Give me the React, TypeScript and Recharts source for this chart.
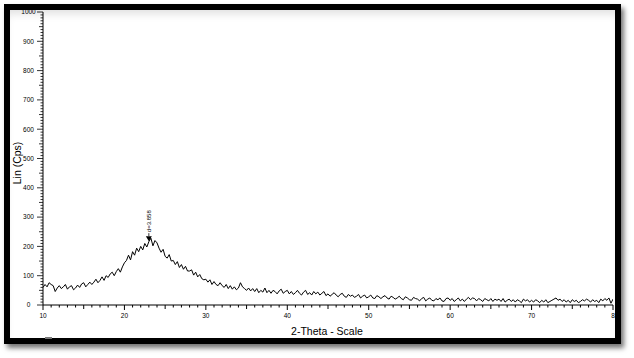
import React from "react";
import { ComposedChart, Line, XAxis, YAxis, ReferenceDot } from "recharts";

// 2-Theta scan, 10° to 80° in 0.25° steps (Lin (Cps))
const TWO_THETA_START = 10;
const TWO_THETA_STEP = 0.25;
const COUNTS: number[] = [
  60, 70, 62, 76, 70, 66, 46, 58,
  66, 56, 62, 70, 54, 62, 66, 52,
  58, 68, 60, 72, 76, 62, 70, 78,
  70, 78, 88, 76, 84, 96, 84, 100,
  94, 106, 112, 100, 114, 124, 112, 130,
  144, 152, 170, 154, 182, 170, 194, 182,
  200, 188, 210, 198, 216, 228, 202, 220,
  212, 194, 180, 190, 166, 160, 172, 150,
  152, 138, 148, 128, 138, 122, 132, 116,
  116, 120, 102, 112, 96, 104, 90, 86,
  88, 78, 86, 70, 80, 70, 66, 76,
  66, 60, 70, 56, 66, 54, 62, 52,
  58, 76, 62, 56, 50, 58, 48, 56,
  46, 56, 42, 50, 44, 58, 42, 50,
  40, 50, 46, 38, 48, 54, 40, 46,
  50, 38, 46, 36, 42, 50, 40, 34,
  44, 50, 36, 42, 34, 46, 38, 44,
  34, 40, 46, 32, 38, 30, 36, 42,
  34, 28, 36, 40, 30, 26, 36, 30,
  34, 26, 30, 36, 24, 30, 34, 24,
  28, 34, 24, 22, 32, 28, 22, 28,
  32, 24, 20, 30, 26, 20, 24, 30,
  22, 18, 28, 24, 18, 16, 26, 22,
  20, 14, 22, 26, 14, 20, 24, 16,
  14, 22, 18, 24, 14, 12, 22, 24,
  16, 22, 12, 18, 24, 14, 20, 12,
  20, 26, 18, 24, 22, 14, 22, 18,
  12, 22, 18, 14, 22, 12, 20, 16,
  20, 12, 22, 10, 16, 20, 12, 18,
  10, 18, 14, 8, 20, 14, 18, 10,
  16, 10, 18, 14, 8, 16, 10, 18,
  8, 12, 16, 20, 24, 16, 20, 12,
  18, 10, 16, 8, 18, 12, 16, 8,
  12, 18, 14, 20, 16, 10, 18, 12,
  16, 8, 20, 14, 22, 16, 24, 6,
  20,
];

const X_MAJOR_TICKS = [10, 20, 30, 40, 50, 60, 70, 80];
const Y_MAJOR_TICKS = [0, 100, 200, 300, 400, 500, 600, 700, 800, 900, 1000];
const PEAK_TWO_THETA = 23;
const PEAK_COUNTS = 218;
const PEAK_LABEL = "d=3.858";
const X_TITLE = "2-Theta - Scale";
const Y_TITLE = "Lin (Cps)";

const data = COUNTS.map((c, i) => ({ t: TWO_THETA_START + i * TWO_THETA_STEP, c }));

const xTicks: number[] = [];
for (let v = 10; v <= 80; v += 1) xTicks.push(v);
const yTicks: number[] = [];
for (let v = 0; v <= 1000; v += 10) yTicks.push(v);

const FONT = "'Liberation Sans', Arial, sans-serif";

const XTick = (props: any) => {
  const { x, y, payload } = props;
  const v = payload.value;
  const major = X_MAJOR_TICKS.includes(v);
  const mid = v % 5 === 0;
  const len = major ? 5 : mid ? 4 : 2.5;
  return (
    <g>
      <line x1={x} x2={x} y1={y} y2={y + len} stroke="#000" strokeWidth={1} />
      {major && (
        <text x={x} y={y + 13} textAnchor="middle" fontSize={6.5} fontFamily={FONT} fill="#000">
          {v === 80 ? "8" : v}
        </text>
      )}
    </g>
  );
};

const YTick = (props: any) => {
  const { x, y, payload } = props;
  const v = payload.value;
  const major = Y_MAJOR_TICKS.includes(v);
  const mid = v % 50 === 0;
  const len = major ? 6 : mid ? 4 : 2.5;
  return (
    <g>
      <line x1={x - len} x2={x} y1={y} y2={y} stroke="#000" strokeWidth={0.8} />
      {major && (
        <text x={x - 14.5} y={y + 2.3} textAnchor="middle" fontSize={6.5} fontFamily={FONT} fill="#000">
          {v}
        </text>
      )}
    </g>
  );
};

const PeakMarker = (props: any) => {
  const { cx, cy } = props;
  return (
    <g>
      <path d={`M ${cx - 3} ${cy - 5} L ${cx + 3} ${cy - 5} L ${cx} ${cy} Z`} fill="#000" />
      <line x1={cx} x2={cx} y1={cy - 5} y2={cy - 8} stroke="#000" strokeWidth={0.8} />
      <text
        x={cx + 2}
        y={cy - 9}
        transform={`rotate(-90 ${cx + 2} ${cy - 9})`}
        fontSize={6}
        fontFamily={FONT}
        fill="#000"
      >
        {PEAK_LABEL}
      </text>
    </g>
  );
};

export default function App() {
  return (
    <div style={{ position: "absolute", left: 0, top: 0, width: 634, height: 358, background: "#fff", overflow: "hidden" }}>
      <ComposedChart
        width={634}
        height={358}
        data={data}
        margin={{ top: 12, right: 21, bottom: 0, left: 0 }}
      >
        <XAxis
          dataKey="t"
          type="number"
          domain={[10, 80]}
          ticks={xTicks}
          interval={0}
          tick={<XTick />}
          tickLine={false}
          tickSize={0}
          tickMargin={0}
          height={53}
          axisLine={{ stroke: "#000", strokeWidth: 1 }}
          allowDataOverflow
        />
        <YAxis
          type="number"
          domain={[0, 1000]}
          ticks={yTicks}
          interval={0}
          tick={<YTick />}
          tickLine={false}
          tickSize={0}
          tickMargin={0}
          width={43}
          axisLine={{ stroke: "#000", strokeWidth: 1 }}
          allowDataOverflow
        />
        <Line
          dataKey="c"
          type="linear"
          stroke="#000"
          strokeWidth={1}
          dot={false}
          isAnimationActive={false}
        />
        <ReferenceDot x={PEAK_TWO_THETA} y={PEAK_COUNTS} shape={<PeakMarker />} />
        <text x={18} y={163} transform="rotate(-90 18 163)" textAnchor="middle" dominantBaseline="middle" fontSize={10.5} fontFamily={FONT} fill="#000">
          {Y_TITLE}
        </text>
        <text x={327} y={332} textAnchor="middle" dominantBaseline="middle" fontSize={10.5} fontFamily={FONT} fill="#000">
          {X_TITLE}
        </text>
      </ComposedChart>
      <div
        style={{
          position: "absolute",
          left: 4,
          top: 4,
          width: 617,
          height: 340,
          boxSizing: "border-box",
          border: "6px solid #000",
          boxShadow: "3px 4px 5px rgba(0,0,0,0.55), inset 0 8px 8px -4px rgba(0,0,0,0.12)",
          pointerEvents: "none",
        }}
      />
      <div style={{ position: "absolute", left: 45, top: 337, width: 7, height: 2, background: "#777" }} />
    </div>
  );
}
